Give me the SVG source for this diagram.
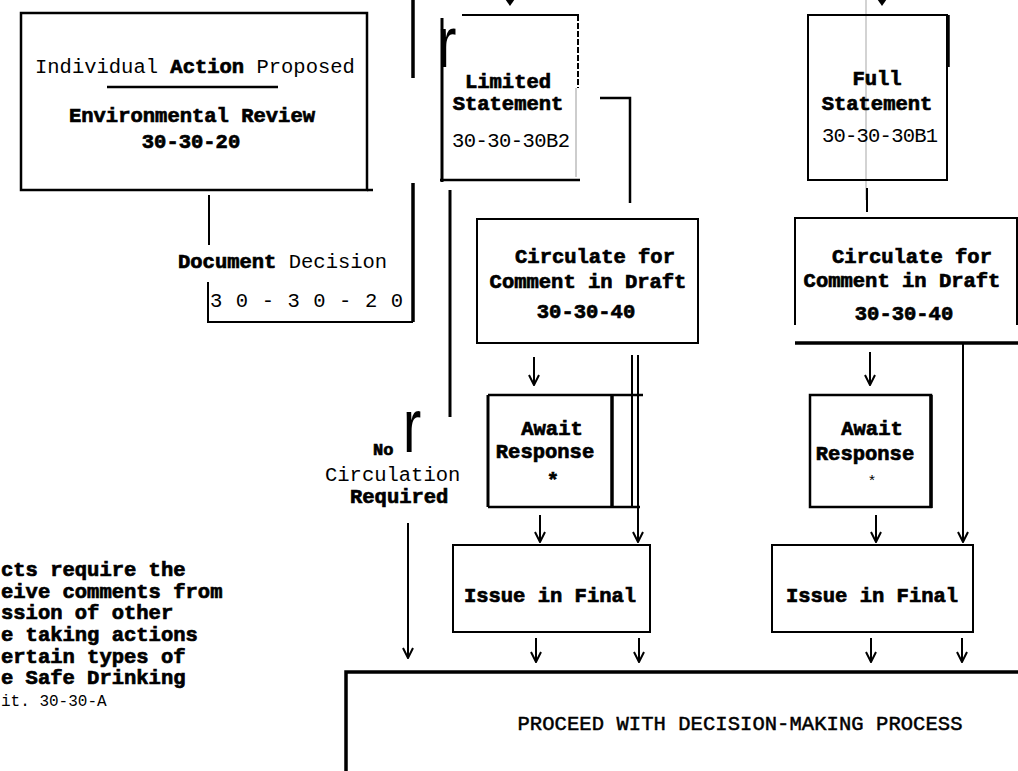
<svg xmlns="http://www.w3.org/2000/svg" width="1018" height="771" viewBox="0 0 1018 771">
<defs>
<style>
.t{font-family:"Liberation Mono","DejaVu Sans Mono",monospace;font-size:20.5px;fill:#000}
.b{font-weight:bold;stroke:#000;stroke-width:0.7}
.c{text-anchor:middle}
.ln{stroke:#000;stroke-width:2;fill:none}
.tk{stroke:#000;stroke-width:3.5;fill:none}
.big{font-family:"Liberation Sans",Arial,sans-serif;fill:#000}
</style>
<marker id="v" viewBox="0 0 12 12" refX="11" refY="6" markerWidth="12" markerHeight="12" markerUnits="userSpaceOnUse" orient="auto">
<path d="M1,1 L11,6 L1,11" fill="none" stroke="#000" stroke-width="2"/>
</marker>
</defs>
<rect width="1018" height="771" fill="#fff"/>

<g id="connectors">
<line x1="866" y1="0" x2="866" y2="200" stroke="#c4c4c4" stroke-width="1.5"/>
<path d="M503,-4 L517,-4 L510,6 Z" fill="#000"/>
<path d="M875,-4 L889,-4 L882,6 Z" fill="#000"/>
<line class="ln" x1="209" y1="195" x2="209" y2="245"/>
<path class="ln" d="M208,282 V322 H413"/>
<line class="tk" x1="413" y1="0" x2="413" y2="78"/>
<line class="tk" x1="413" y1="183" x2="413" y2="322"/>
<line class="tk" x1="450" y1="190" x2="450" y2="417" style="stroke-width:3"/>
<path class="ln" d="M600,98 H630 V203" style="stroke-width:2.5"/>
<line class="ln" x1="867" y1="188" x2="867" y2="212"/>
<line class="ln" x1="534" y1="357" x2="534" y2="385" marker-end="url(#v)"/>
<line class="ln" x1="632" y1="355" x2="632" y2="507"/>
<line class="ln" x1="638" y1="355" x2="638" y2="542" marker-end="url(#v)"/>
<line class="ln" x1="540" y1="515" x2="540" y2="542" marker-end="url(#v)"/>
<line class="ln" x1="870" y1="352" x2="870" y2="385" marker-end="url(#v)"/>
<line class="ln" x1="963" y1="343" x2="963" y2="542" marker-end="url(#v)"/>
<line class="ln" x1="876" y1="515" x2="876" y2="542" marker-end="url(#v)"/>
<line class="ln" x1="408" y1="523" x2="408" y2="658" marker-end="url(#v)"/>
<line class="ln" x1="536" y1="638" x2="536" y2="662" marker-end="url(#v)"/>
<line class="ln" x1="639" y1="638" x2="639" y2="662" marker-end="url(#v)"/>
<line class="ln" x1="871" y1="638" x2="871" y2="662" marker-end="url(#v)"/>
<line class="ln" x1="962" y1="638" x2="962" y2="662" marker-end="url(#v)"/>
</g>

<g id="action-proposed">
<rect class="ln" x="21" y="13" width="346" height="177" style="stroke-width:2.5"/>
<line class="ln" x1="367" y1="190" x2="373" y2="190" style="stroke-width:2.5"/>
<text class="t" x="35" y="73">Individual <tspan class="b">Action</tspan> Proposed</text>
<line class="ln" x1="107" y1="87" x2="278" y2="87" style="stroke-width:2.5"/>
<text class="t b c" x="192" y="122">Environmental Review</text>
<text class="t b c" x="191" y="148">30-30-20</text>
</g>

<g id="document-decision">
<text class="t" x="178" y="268"><tspan class="b">Document</tspan> Decision</text>
<text class="t" x="210" y="307" textLength="193">3 0 - 3 0 - 2 0</text>
</g>

<g id="limited-statement">
<line class="ln" x1="462" y1="15" x2="579" y2="15"/>
<line class="ln" x1="578" y1="15" x2="578" y2="88" stroke-dasharray="6 2"/>
<line x1="576" y1="88" x2="576" y2="177" stroke="#bdbdbd" stroke-width="1.5"/>
<line class="ln" x1="440" y1="180" x2="580" y2="180" style="stroke-width:2.5"/>
<line class="ln" x1="442" y1="18" x2="442" y2="182" style="stroke-width:3"/>
<text class="big" transform="translate(437,67) scale(0.8,1)" font-size="73">r</text>
<text class="t b c" x="508" y="88">Limited</text>
<text class="t b c" x="508" y="110">Statement</text>
<text class="t c" x="511" y="147" textLength="118">30-30-30B2</text>
</g>

<g id="full-statement">
<rect class="ln" x="808" y="15" width="139" height="165"/>
<line class="tk" x1="948" y1="15" x2="948" y2="67"/>
<text class="t b c" x="877" y="85">Full</text>
<text class="t b c" x="877" y="110">Statement</text>
<text class="t c" x="880" y="142" textLength="116">30-30-30B1</text>
</g>

<g id="circulate-left">
<rect class="ln" x="477" y="219" width="221" height="124"/>
<text class="t b c" x="595" y="263">Circulate for</text>
<text class="t b c" x="588" y="288">Comment in Draft</text>
<text class="t b c" x="586" y="318">30-30-40</text>
</g>

<g id="circulate-right">
<path class="ln" d="M795,325 V218 H1017 V325"/>
<line class="tk" x1="795" y1="343" x2="1018" y2="343"/>
<text class="t b c" x="912" y="263">Circulate for</text>
<text class="t b c" x="902" y="287">Comment in Draft</text>
<text class="t b c" x="904" y="320">30-30-40</text>
</g>

<g id="await-left">
<path class="ln" d="M488,395 V507" style="stroke-width:3"/>
<line class="ln" x1="488" y1="395" x2="643" y2="395" style="stroke-width:2.5"/>
<line class="ln" x1="488" y1="507" x2="640" y2="507" style="stroke-width:2.5"/>
<line class="tk" x1="612" y1="395" x2="612" y2="507"/>
<text class="t b c" x="552" y="435">Await</text>
<text class="t b c" x="545" y="458">Response</text>
<text class="t b c" x="553" y="487">*</text>
</g>

<g id="await-right">
<rect class="ln" x="810" y="395" width="121" height="112" style="stroke-width:2.5"/>
<line class="tk" x1="931" y1="395" x2="931" y2="508"/>
<text class="t b c" x="872" y="435">Await</text>
<text class="t b c" x="865" y="460">Response</text>
<text class="t c" x="872" y="486" style="font-size:15px">*</text>
</g>

<g id="no-circulation">
<text class="t b" x="373" y="455" style="font-size:17px">No</text>
<text class="big" transform="translate(403,452) scale(0.72,1)" font-size="76">r</text>
<text class="t" x="325" y="481">Circulation</text>
<text class="t b" x="350" y="503">Required</text>
</g>

<g id="issue-left">
<rect class="ln" x="453" y="545" width="197" height="87"/>
<text class="t b c" x="550" y="602">Issue in Final</text>
</g>

<g id="issue-right">
<rect class="ln" x="772" y="545" width="201" height="87"/>
<text class="t b c" x="872" y="602">Issue in Final</text>
</g>

<g id="proceed">
<path class="tk" d="M346,771 V672 H1022"/>
<text class="t c" x="740" y="730" textLength="445" style="stroke:#000;stroke-width:0.5">PROCEED WITH DECISION-MAKING PROCESS</text>
</g>

<g id="note">
<text class="t b" x="1" y="576">cts require the</text>
<text class="t b" x="1" y="598">eive comments from</text>
<text class="t b" x="1" y="619">ssion of other</text>
<text class="t b" x="1" y="641">e taking actions</text>
<text class="t b" x="1" y="663">ertain types of</text>
<text class="t b" x="1" y="684">e Safe Drinking</text>
<text class="t" x="1" y="706" style="font-size:16px">it.  30-30-A</text>
</g>
</svg>
